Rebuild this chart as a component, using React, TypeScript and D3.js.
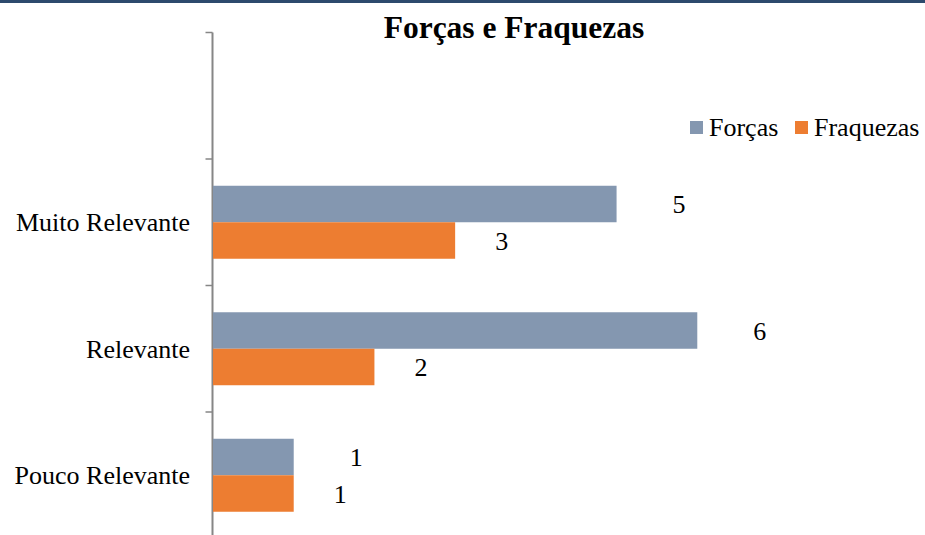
import { useEffect, useRef } from 'react';
import { scaleBand, scaleLinear, select } from 'd3';

const categories = ['Muito Relevante', 'Relevante', 'Pouco Relevante'];
const seriesNames = ['Forças', 'Fraquezas'];
const forcas = [5, 6, 1];
const fraquezas = [3, 2, 1];

const colors = ['#8497b0', '#ed7d31'];
const W = 925;
const H = 535;

export default function App() {
  const svgRef = useRef<SVGSVGElement>(null);

  useEffect(() => {
    const svg = select(svgRef.current);
    svg.selectAll('*').remove();
    const font = 'Liberation Serif, Times New Roman, Times, serif';

    // navy strip along the top
    svg.append('rect').attr('x', 0).attr('y', 0).attr('width', W).attr('height', 3).attr('fill', '#2d4a6d');

    const x = scaleLinear().domain([0, 7]).range([213, 778]);
    const y = scaleBand().domain(categories).range([159, 538.5]);
    const inner = scaleBand().domain(seriesNames).range([0, y.bandwidth()]).paddingOuter(0.733);

    const axisX = 212.5;
    const top = y.range()[0] - y.step();
    svg.append('line')
      .attr('x1', axisX).attr('x2', axisX)
      .attr('y1', top).attr('y2', H)
      .attr('stroke', '#868686').attr('stroke-width', 2);
    const tickYs = [top, ...categories.map(c => y(c) as number)];
    svg.selectAll('line.tick').data(tickYs).enter().append('line')
      .attr('class', 'tick')
      .attr('x1', axisX - 7).attr('x2', axisX)
      .attr('y1', d => d).attr('y2', d => d)
      .attr('stroke', '#868686').attr('stroke-width', 1.5);

    svg.selectAll('text.cat').data(categories).enter().append('text')
      .attr('class', 'cat')
      .attr('x', 190)
      .attr('y', d => (y(d) as number) + y.bandwidth() / 2)
      .attr('dy', '0.35em')
      .attr('text-anchor', 'end')
      .style('font-family', font).style('font-size', '26px')
      .text(d => d);

    const series = [forcas, fraquezas];
    const labelShift = [56, 40];
    series.forEach((vals, si) => {
      const name = seriesNames[si];
      const g = svg.append('g');
      g.selectAll('rect').data(vals).enter().append('rect')
        .attr('x', x(0))
        .attr('y', (_, i) => (y(categories[i]) as number) + (inner(name) as number))
        .attr('width', d => x(d) - x(0))
        .attr('height', inner.bandwidth())
        .attr('fill', colors[si]);
      g.selectAll('text').data(vals).enter().append('text')
        .attr('x', d => x(d) + labelShift[si])
        .attr('y', (_, i) => (y(categories[i]) as number) + (inner(name) as number) + inner.bandwidth() / 2)
        .attr('dy', '0.35em')
        .style('font-family', font).style('font-size', '26px')
        .text(d => d);
    });

    svg.append('text')
      .attr('x', 514).attr('y', 38)
      .attr('text-anchor', 'middle')
      .style('font-family', font).style('font-size', '31.5px').style('font-weight', 'bold')
      .text('Forças e Fraquezas');

    const legendX = [690, 795];
    seriesNames.forEach((name, i) => {
      svg.append('rect')
        .attr('x', legendX[i]).attr('y', 121)
        .attr('width', 13).attr('height', 13)
        .attr('fill', colors[i]);
      svg.append('text')
        .attr('x', legendX[i] + 19).attr('y', 136)
        .style('font-family', font).style('font-size', '26px')
        .text(name);
    });
  }, []);

  return (
    <svg ref={svgRef} width={W} height={H} style={{ position: 'absolute', left: 0, top: 0, background: '#fff' }} />
  );
}
